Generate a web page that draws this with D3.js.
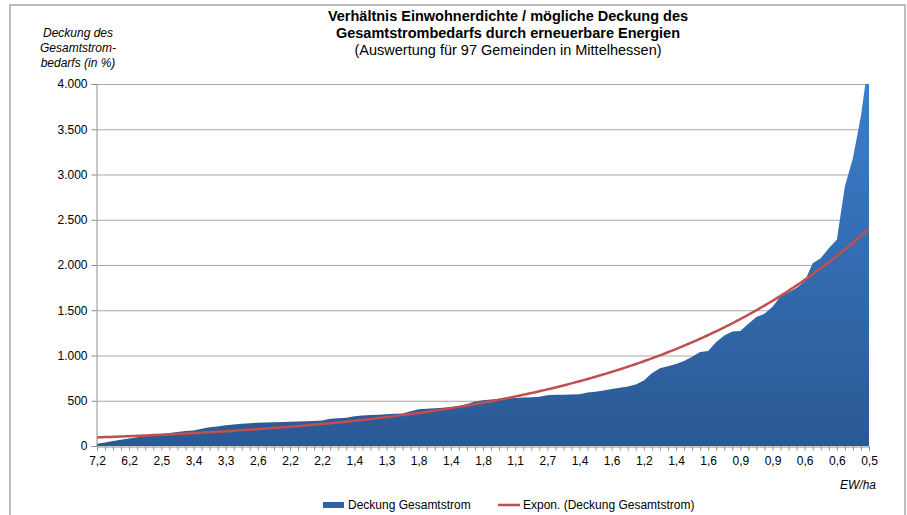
<!DOCTYPE html>
<html>
<head>
<meta charset="utf-8">
<script src="https://cdn.jsdelivr.net/npm/d3@7"></script>
<style>
  body { margin: 0; background: #fff; }
  svg { font-family: "Liberation Sans", Arial, sans-serif; }
</style>
</head>
<body>
<div id="chart"></div>
<script>
// Deckung des Gesamtstrombedarfs (in %) je Gemeinde, sortiert
var deckung = [
  25, 40, 55, 68, 82, 96, 108, 120, 132, 143,
  155, 165, 172, 190, 207, 215, 228, 238, 245, 252,
  258, 260, 263, 265, 268, 270, 273, 277, 283, 300,
  306, 312, 330, 337, 342, 346, 350, 355, 360, 385,
  405, 412, 418, 423, 430, 440, 465, 492, 505, 515,
  522, 527, 530, 535, 540, 545, 560, 565, 566, 568,
  571, 590, 600, 612, 630, 645, 658, 680, 725, 805,
  860, 880, 905, 940, 985, 1040, 1050, 1150, 1220, 1265,
  1272, 1350, 1425, 1460, 1540, 1655, 1700, 1750, 1820, 2020,
  2075, 2185, 2280, 2870, 3180, 3650, 4300
];
// jede vierte Gemeinde beschriftet (Einwohner je ha)
var ewLabels = ["7,2", "6,2", "2,5", "3,4", "3,3", "2,6", "2,2", "2,2", "1,4", "1,3",
  "1,8", "1,4", "1,8", "1,1", "2,7", "1,4", "1,6", "1,2", "1,4", "1,6",
  "0,9", "0,9", "0,6", "0,6", "0,5"];
var yTicks = [0, 500, 1000, 1500, 2000, 2500, 3000, 3500, 4000];
var titleLines = ["Verhältnis Einwohnerdichte / mögliche Deckung des",
  "Gesamtstrombedarfs durch erneuerbare Energien",
  "(Auswertung für 97 Gemeinden in Mittelhessen)"];
var yTitle = ["Deckung des", "Gesamtstrom-", "bedarfs (in %)"];

var W = 907, H = 515;
var m = { left: 97, right: 869, top: 84, bottom: 446 };

var de = d3.formatLocale({ decimal: ",", thousands: ".", grouping: [3], currency: ["", "€"] });
var fmt = de.format(",d");

var svg = d3.select("#chart").append("svg")
  .attr("width", W).attr("height", H);

// frame
svg.append("rect")
  .attr("x", 10).attr("y", 5).attr("width", 895).attr("height", 520)
  .attr("fill", "none").attr("stroke", "#bcbcbc").attr("stroke-width", 2);

var x = d3.scaleLinear().domain([0, deckung.length - 1]).range([m.left, m.right]);
var y = d3.scaleLinear().domain([0, 4000]).range([m.bottom, m.top]);

// gradient for area
var grad = svg.append("defs").append("linearGradient")
  .attr("id", "blue").attr("gradientUnits", "userSpaceOnUse")
  .attr("x1", 0).attr("y1", m.top).attr("x2", 0).attr("y2", m.bottom);
grad.append("stop").attr("offset", "0%").attr("stop-color", "#3b7ecc");
grad.append("stop").attr("offset", "100%").attr("stop-color", "#2b5994");

svg.append("clipPath").attr("id", "plot").append("rect")
  .attr("x", m.left).attr("y", m.top).attr("width", m.right - m.left).attr("height", m.bottom - m.top);

// grid lines
svg.append("g").selectAll("line").data(yTicks.slice(1)).enter().append("line")
  .attr("x1", m.left).attr("x2", m.right)
  .attr("y1", d => y(d) + 0.5).attr("y2", d => y(d) + 0.5)
  .attr("stroke", "#a6a6a6").attr("stroke-width", 1);

// area
var area = d3.area().x((d, i) => x(i)).y0(y(0)).y1(d => y(d));
svg.append("path").datum(deckung)
  .attr("clip-path", "url(#plot)")
  .attr("d", area).attr("fill", "url(#blue)");

// exponential trend (least squares on ln y, x = 1..n)
var n = deckung.length, sx = 0, sy = 0, sxx = 0, sxy = 0;
deckung.forEach(function(v, i) {
  var xi = i + 1, ly = Math.log(v);
  sx += xi; sy += ly; sxx += xi * xi; sxy += xi * ly;
});
var b = (n * sxy - sx * sy) / (n * sxx - sx * sx);
var a = Math.exp((sy - b * sx) / n);
var trend = d3.range(0, n - 1 + 0.001, 0.25).map(t => [t, a * Math.exp(b * (t + 1))]);
svg.append("path").datum(trend)
  .attr("clip-path", "url(#plot)")
  .attr("d", d3.line().x(d => x(d[0])).y(d => y(d[1])))
  .attr("fill", "none").attr("stroke", "#c0504d").attr("stroke-width", 2.5);

// y axis
var yAxis = svg.append("g").attr("transform", "translate(" + (m.left - 0.5) + ",0)")
  .call(d3.axisLeft(y).tickValues(yTicks).tickFormat(fmt).tickSize(5).tickPadding(4));
yAxis.select(".domain").attr("stroke", "#8c8c8c");
yAxis.selectAll(".tick line").attr("stroke", "#8c8c8c");
yAxis.selectAll("text").attr("font-size", 12).attr("fill", "#000")
  .attr("font-family", "Liberation Sans, Arial, sans-serif");

// x axis: tick at every category, labels every fourth
var xAxis = svg.append("g").attr("transform", "translate(0," + (m.bottom + 0.5) + ")")
  .call(d3.axisBottom(x).tickValues(d3.range(n)).tickSize(4).tickPadding(6)
    .tickFormat(i => i % 4 === 0 ? ewLabels[i / 4] : ""));
xAxis.select(".domain").attr("stroke", "#8c8c8c");
xAxis.selectAll(".tick line").attr("stroke", "#8c8c8c");
xAxis.selectAll("text").attr("font-size", 12).attr("fill", "#000")
  .attr("font-family", "Liberation Sans, Arial, sans-serif");

// titles
svg.append("g").selectAll("text").data(titleLines).enter().append("text")
  .attr("x", 508).attr("y", (d, i) => 21 + i * 17)
  .attr("text-anchor", "middle").attr("font-size", 14.5)
  .attr("font-weight", (d, i) => i < 2 ? "bold" : "normal")
  .text(d => d);

svg.append("g").selectAll("text").data(yTitle).enter().append("text")
  .attr("x", 78).attr("y", (d, i) => 37 + i * 15)
  .attr("text-anchor", "middle").attr("font-size", 12).attr("font-style", "italic")
  .text(d => d);

svg.append("text").attr("x", 876).attr("y", 489).attr("text-anchor", "end")
  .attr("font-size", 12).attr("font-style", "italic").text("EW/ha");

// legend
var lg = svg.append("g").attr("transform", "translate(0,505)");
lg.append("rect").attr("x", 323).attr("y", -3).attr("width", 21).attr("height", 6).attr("fill", "#2f63a6");
lg.append("text").attr("x", 348).attr("y", 4).attr("font-size", 12).text("Deckung Gesamtstrom");
lg.append("line").attr("x1", 498).attr("x2", 520).attr("y1", 0).attr("y2", 0)
  .attr("stroke", "#c0504d").attr("stroke-width", 2.5);
lg.append("text").attr("x", 523).attr("y", 4).attr("font-size", 12).text("Expon. (Deckung Gesamtstrom)");
</script>
</body>
</html>
